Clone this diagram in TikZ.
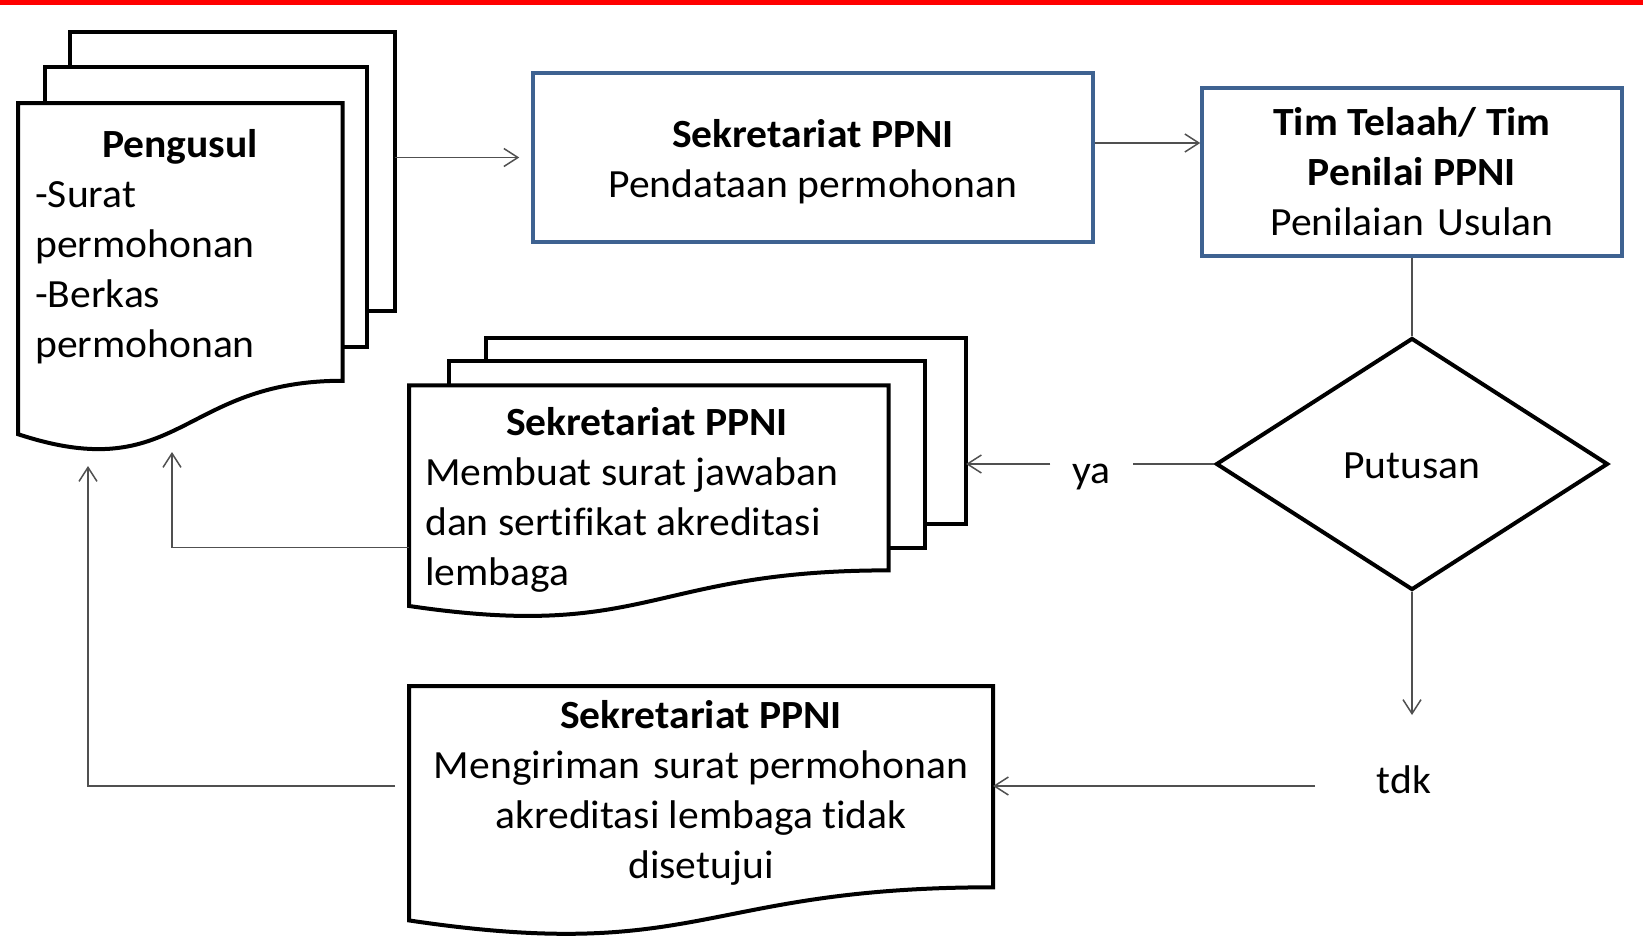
\documentclass[tikz,border=0pt]{standalone}
\usepackage{fontspec}
\setmainfont{Carlito}[Ligatures=NoCommon, FakeStretch=1.04]
\usetikzlibrary{arrows.meta,shapes.geometric,calc}
\definecolor{boxblue}{RGB}{62,98,145}
\definecolor{conncol}{RGB}{80,80,80}
\definecolor{barred}{RGB}{255,0,0}
\tikzset{
  sheet/.style={draw=black, fill=white, line width=4pt, line join=miter},
  bluebox/.style={draw=boxblue, fill=white, line width=3.5pt, inner sep=0pt},
  decision/.style={diamond, draw=black, fill=white, line width=4pt, inner sep=0pt},
  conn/.style={draw=conncol, line width=1.5pt},
  arr/.style={conn, -{Straight Barb[length=14pt,width=18pt,line width=1.5pt]}},
  txt/.style={font=\fontsize{40}{50}\selectfont, inner sep=0pt, text=black},
}
\newcommand\multidocshape[5]{%
  \begin{scope}[shift={(#2,#3)}, x=#4pt, y=-#5pt]
    \draw[sheet] (0.13759,0) rectangle (1,0.66630);
    \draw[sheet] (0.07093,0.08403) rectangle (0.92593,0.75241);
    \draw[sheet] (0,0.17014) -- (0.86088,0.17014) -- (0.86088,0.83435)
      .. controls (0.43046,0.83435) and (0.43046,1.08991) .. (0,0.96213) -- cycle;
    \coordinate (#1-backSE) at (1,0.66630);
    \coordinate (#1-midSW) at (0.07093,0.75241);
    \coordinate (#1-frontNW) at (0,0.17014);
  \end{scope}}
\begin{document}
\begin{tikzpicture}[x=1pt,y=-1pt]
\useasboundingbox (0,0) rectangle (1643,935);
\fill[barred] (0,0) rectangle (1643,4.5);

% Pengusul multidocument
\multidocshape{peng}{18}{32}{377}{418}
\node[txt, anchor=north] (pengT) at (180,122) {\strut\textbf{Pengusul}};
\node[txt, anchor=north west, align=left] (pengB) at (35,172)
  {\strut -Surat\\permohonan\\-Berkas\\permohonan};

% Box 1
\node[bluebox, minimum width=560pt, minimum height=169pt] (box1) at (813,157.5) {};
\node[txt, anchor=north, align=center] (box1T) at (813,112)
  {\strut\textbf{Sekretariat PPNI}\\Pendataan permohonan};

% Box 2
\node[bluebox, minimum width=420pt, minimum height=168pt] (box2) at (1412,172) {};
\node[txt, anchor=north, align=center] (box2T) at (1412,100)
  {\strut\textbf{Tim Telaah/ Tim}\\\textbf{Penilai PPNI}\\Penilaian\hspace{4pt} Usulan};

% Decision
\node[decision, minimum width=392pt, minimum height=252pt] (dia) at (1412,464) {};
\node[txt, anchor=base] (diaT) at (1412,478) {Putusan};

% Middle multidocument
\multidocshape{mid}{409}{338}{557}{278.5}
\node[txt, anchor=north] (midT) at (647,400) {\strut\textbf{Sekretariat PPNI}};
\node[txt, anchor=north west, align=left] (midB) at (425,450)
  {\strut Membuat surat jawaban\\dan sertifikat akreditasi\\lembaga};

% Bottom document
\begin{scope}[shift={(409,686)}, x=584pt, y=-251pt]
  \draw[sheet] (0,0) -- (1,0) -- (1,0.80194)
    .. controls (0.5,0.80194) and (0.5,1.1075) .. (0,0.93389) -- cycle;
  \coordinate (bot-NE) at (1,0);
  \coordinate (bot-NW) at (0,0);
\end{scope}
\node[txt, anchor=north, align=center] (botT) at (701,693)
  {\strut\textbf{Sekretariat PPNI}\\Mengiriman\hspace{4pt} surat permohonan\\akreditasi lembaga tidak\\disetujui};

% Labels
\node[txt, anchor=base, inner xsep=22pt] (ya) at (1091.5,483) {ya};
\node[txt, anchor=base] (tdk) at (1404,793) {tdk};

% Connector coordinates
\coordinate (tdkin) at (1412,715);
\coordinate (tdkL) at (1315,786);
\coordinate (botL) at (395,786);
\coordinate (pin1) at (172,452);
\coordinate (pin2) at (88,466);

% Connectors
\draw[arr, shorten >=12pt] (peng-backSE |- box1.west) -- (box1.west);
\draw[arr] ([yshift=14.5pt]box1.east) coordinate (a2) -- (a2 -| box2.west);
\draw[conn] (box2.south) -- (dia.north);
\draw[conn] (dia.west) -- (dia.west -| ya.east);
\draw[arr] (dia.west -| ya.west) -- (dia.west -| mid-backSE);
\draw[arr] (dia.south) -- (tdkin);
\draw[arr] (tdkL) -- (tdkL -| bot-NE);
\draw[arr] (mid-frontNW |- mid-midSW) -| (pin1);
\draw[arr] (botL) -| (pin2);
\end{tikzpicture}
\end{document}
